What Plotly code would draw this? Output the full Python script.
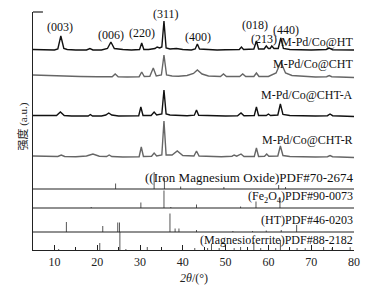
import plotly.graph_objects as go

# ---- XRD curves (2theta, intensity above each curve's own baseline, a.u.) ----
tt_ht = [5, 8, 10, 10.8, 11.5, 12.2, 13, 15, 17.5, 18.3, 19, 21, 22.4, 23.2, 24, 26, 28, 29.9, 30.4, 30.9,
         32, 33.5, 34.0, 34.6, 35.1, 35.6, 36.1, 37, 38.5, 40, 42, 42.9, 43.4, 43.9, 46, 48, 50, 53.2, 53.7,
         54.2, 56.6, 57.2, 57.7, 59, 59.5, 60, 60.4, 60.8, 61.3, 62.3, 62.9, 63.5, 65, 67, 70, 73.5, 74.2,
         75, 77, 80]
int_ht = [0.5, 0.3, 0, 1, 14, 1.5, 0.5, 0, 0, 1.5, 0, 0, 1.5, 8, 1.5, 0.5, 0, 0.5, 7, 0.5,
          0.5, 1.5, 3, 2, 3, 29, 2, 1, 1.5, 0.5, 0, 1, 6, 1, 0.5, 0, 0.3, 0.5, 3,
          0.5, 1, 9, 1, 1, 4, 1.5, 1.5, 4, 1.5, 1.5, 12, 1.5, 0.5, 0, 0, 0.5, 2,
          0.3, 0, 0]

tt_cht = [5, 8, 12, 16, 20, 23.5, 24.2, 24.9, 27, 29.8, 30.4, 31.0, 32.3, 33.1, 33.8, 35.0, 35.6, 36.2,
          37.5, 39, 41, 42.5, 43.4, 44.5, 46, 48.8, 49.5, 50.2, 53.3, 54, 54.7, 56.6, 57.2, 57.8, 60,
          61.8, 62.9, 64.0, 65.5, 68, 71, 73.6, 74.2, 74.8, 77, 80]
int_cht = [2, 1.5, 1, 0.5, 0.3, 0.3, 3, 0.3, 0, 0.3, 5, 0.5, 0.8, 9, 1, 2, 22, 2,
           1, 0.8, 1.5, 3.5, 7, 3, 1, 0.5, 3, 0.5, 0.5, 3, 0.5, 0.5, 4, 0.5, 0.5,
           4, 15, 4, 1.5, 0.5, 0, 0.3, 1.5, 0.3, 0, -0.5]

tt_cht_a = [5, 8, 10.5, 11.4, 12.3, 14, 16, 17.9, 18.4, 18.9, 21, 22.0, 22.7, 23.4, 25, 27, 29.7, 30.2,
            30.7, 32.6, 33.3, 33.9, 35.1, 35.6, 36.1, 37, 39, 41, 42.7, 43.2, 43.7, 46, 48, 50, 52.8,
            53.6, 54.3, 56.7, 57.2, 57.7, 59.5, 60, 60.5, 62.2, 62.8, 63.4, 65, 68, 71, 73.8, 74.4, 75,
            77, 80]
int_cht_a = [0.5, 0.3, 0.5, 4, 0.5, 0, 0, 0, 1.5, 0, 0, 1, 3, 1, 0, 0, 0.3, 9,
             0.5, 0.5, 4, 1, 2, 26, 2, 1, 0.5, 0.3, 0.8, 6, 0.8, 0.3, 0, 0, 0.3,
             3, 0.3, 0.5, 9, 0.5, 0.5, 2, 0.5, 1, 12, 1.5, 0.5, 0, 0, 0.3, 2, 0.3,
             0, -0.5]

tt_cht_r = [5, 8, 10.8, 11.6, 12.4, 15, 17.5, 19.0, 20.5, 22.2, 22.8, 23.4, 26, 29.8, 30.3, 30.8, 32.7,
            33.3, 33.9, 35.1, 35.6, 36.1, 37.5, 38.7, 40, 42.6, 43.2, 43.8, 46, 49, 51.5, 52, 52.6, 53.6,
            54.3, 56.7, 57.2, 57.7, 59.1, 59.6, 60.1, 62.2, 62.8, 63.4, 65, 68, 71, 73.8, 74.4, 75, 77, 80]
int_cht_r = [1, 0.5, 0.5, 2, 0.5, 0.3, 1, 3, 0.8, 0.5, 2, 0.5, 0, 0.3, 10, 0.5, 0.8,
             4, 1, 2, 36, 2, 2, 6, 1.5, 1, 6, 1, 0.5, 0.3, 0.8, 2, 0.8, 3,
             0.5, 0.5, 9, 0.5, 0.8, 3, 0.8, 1, 11, 1.5, 0.5, 0, 0, 0.3, 1.5, 0.3, 0, -0.5]

curve_names = ["M-Pd/Co@HT", "M-Pd/Co@CHT", "M-Pd/Co@CHT-A", "M-Pd/Co@CHT-R"]
curve_offsets = [200, 173, 134, 93]

# ---- reference stick patterns ----
pos_imo = [24.3, 33.3, 35.7, 39.5, 49.6, 62.4, 64.0]
h_imo = [5.5, 17, 11, 2.5, 2, 4, 2]
pos_fe = [18.6, 30.2, 35.6, 37.2, 43.2, 53.5, 57.1, 62.7]
h_fe = [1, 5.5, 17.5, 1, 3.5, 1.5, 6.5, 10]
pos_ht = [12.8, 21.3, 24.8, 25.2, 37.0, 38.2, 39.1, 43.2, 51.7, 56.3, 59.5, 63.0, 66.6]
h_ht = [10, 6, 9.5, 9.5, 18.5, 3.5, 3.5, 2, 1, 1, 1.5, 2, 7]
pos_mf = [11.0, 20.6, 25.3, 26.7, 31.7, 42.8, 45.8, 46.7, 48.5, 52.0, 53.5, 56.6, 58.2, 61.7, 62.8,
          66.7, 68.6, 72.9, 74.9, 79.1]
h_mf = [1, 7, 18, 1, 3, 2, 2, 6, 2, 2, 3, 8, 2, 2, 10, 2, 2, 3, 2, 3]

ref_names = ["((Iron Magnesium Oxide)PDF#70-2674", "(Fe<sub>2</sub>O<sub>4</sub>)PDF#90-0073",
             "(HT)PDF#46-0203", "(Magnesioferrite)PDF#88-2182"]
ref_bases = [61, 42, 18, 0]

peak_labels = ["(003)", "(006)", "(220)", "(311)", "(400)", "(018)", "(213)", "(440)"]
peak_x = [11.3, 23.2, 30.4, 36.0, 43.5, 56.9, 59.0, 64.1]
peak_y = [222.7, 215, 217.3, 236, 213.3, 225, 210.7, 220]

x_ticks = [10, 20, 30, 40, 50, 60, 70, 80]

FONT = "'Liberation Serif', 'Times New Roman', 'Noto Sans CJK SC', serif"

fig = go.Figure()

curves = [(tt_ht, int_ht), (tt_cht, int_cht), (tt_cht_a, int_cht_a), (tt_cht_r, int_cht_r)]
colors = ["#111111", "#666666", "#111111", "#666666"]
for (xs, ys), off, col in zip(curves, curve_offsets, colors):
    fig.add_trace(go.Scatter(x=xs, y=[v + off for v in ys], mode="lines",
                             line=dict(color=col, width=1.4), hoverinfo="skip"))

sticks = [(pos_imo, h_imo), (pos_fe, h_fe), (pos_ht, h_ht), (pos_mf, h_mf)]
for (ps, hs), base in zip(sticks, ref_bases):
    sx, sy = [], []
    for p, h in zip(ps, hs):
        sx += [p, p, None]
        sy += [base, base + h, None]
    fig.add_trace(go.Scatter(x=sx, y=sy, mode="lines",
                             line=dict(color="#555555", width=1), hoverinfo="skip"))

shapes = []
for base in ref_bases[:3]:
    shapes.append(dict(type="line", xref="paper", x0=0, x1=1, yref="y", y0=base, y1=base,
                       line=dict(color="#222222", width=1.2)))
shapes.append(dict(type="line", xref="paper", x0=0, x1=0.031, yref="paper", y0=1, y1=1,
                   line=dict(color="#222222", width=1.2)))

annotations = []
label_y = [208.3, 185.7, 155, 110]
for name, yy in zip(curve_names, label_y):
    annotations.append(dict(x=1.004, y=yy, xref="paper", yref="y", text=name, showarrow=False,
                            xanchor="right", yanchor="middle", font=dict(size=12, color="#111")))
ref_label_y = [72.5, 52.7, 30, 10]
ref_label_size = [13, 12, 12, 12]
for name, yy, fs in zip(ref_names, ref_label_y, ref_label_size):
    annotations.append(dict(x=1.004, y=yy, xref="paper", yref="y", text=name, showarrow=False,
                            xanchor="right", yanchor="middle", font=dict(size=fs, color="#111")))
for t, px, py in zip(peak_labels, peak_x, peak_y):
    annotations.append(dict(x=px, y=py, xref="x", yref="y", text=t, showarrow=False,
                            xanchor="center", yanchor="middle", font=dict(size=12, color="#111")))
annotations.append(dict(x=-0.03, y=0.52, xref="paper", yref="paper", text="强度 (a.u.)",
                        textangle=-90, showarrow=False, xanchor="center", yanchor="middle",
                        font=dict(size=11, color="#222")))
annotations.append(dict(x=0.5, y=-0.116, xref="paper", yref="paper", text="<i>2θ</i>/(°)",
                        showarrow=False, xanchor="center", yanchor="middle",
                        font=dict(size=12, color="#222")))

fig.update_layout(
    width=372, height=292,
    margin=dict(l=33, r=16, t=12, b=42),
    paper_bgcolor="white", plot_bgcolor="white",
    showlegend=False,
    font=dict(family=FONT, size=12, color="#222"),
    shapes=shapes, annotations=annotations,
    xaxis=dict(range=[5, 80], tickvals=x_ticks, ticks="inside", ticklen=5, tickwidth=1,
               tickcolor="#222", showline=True, linecolor="#222", linewidth=1.2, showgrid=False,
               zeroline=False, tickfont=dict(size=12, color="#222"),
               minor=dict(tickvals=[15, 25, 35, 45, 55, 65, 75], ticks="inside", ticklen=3,
                          tickcolor="#222")),
    yaxis=dict(range=[0, 238], showticklabels=False, ticks="", showline=True, linecolor="#222",
               linewidth=1.2, showgrid=False, zeroline=False),
)

fig.write_html("out.html", config={"displayModeBar": False, "staticPlot": True},
               post_script="document.body.style.margin='0';")
